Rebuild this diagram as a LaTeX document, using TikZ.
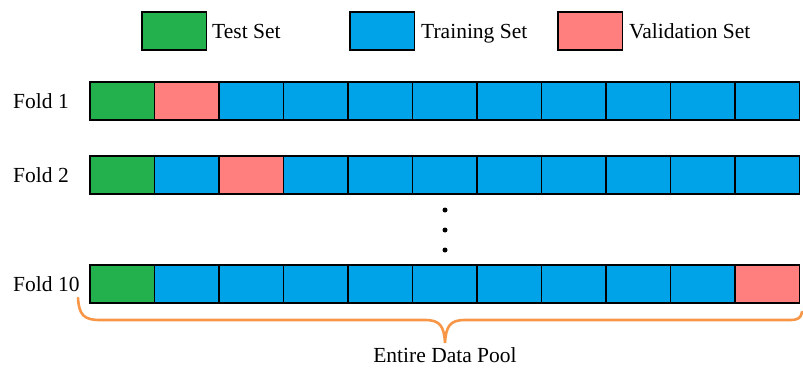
\documentclass[tikz,border=0pt]{standalone}
\usepackage{fontspec}
\setmainfont{Liberation Serif}
\definecolor{testg}{HTML}{22B14C}
\definecolor{trainb}{HTML}{00A2E8}
\definecolor{valr}{HTML}{FF7F7F}
\definecolor{braceo}{HTML}{F79646}
\begin{document}
\begin{tikzpicture}[x=1pt,y=-1pt,
  cell/.style={draw=black,line width=1.7pt,minimum width=64.5pt,minimum height=38pt,inner sep=0pt,outer sep=0pt},
  lbl/.style={font=\fontsize{21.5}{24}\selectfont,inner sep=0pt},
  dotn/.style={circle,fill=black,minimum size=5pt,inner sep=0pt}]
\useasboundingbox (0,0) rectangle (803,367);
% legend
\node[cell,fill=testg,anchor=north west] (lg) at (142,12) {};
\node[lbl,anchor=base west] (lgt) at (212,38) {Test Set};
\node[cell,fill=trainb,anchor=north west] (lb) at (350,12) {};
\node[lbl,anchor=base west] (lbt) at (421,38) {Training Set};
\node[cell,fill=valr,anchor=north west] (lr) at (558,12) {};
\node[lbl,anchor=base west] (lrt) at (629,38) {Validation Set};
% folds
\foreach \i/\y/\v/\name in {1/82/2/Fold 1, 2/156/3/Fold 2, 10/265/11/Fold 10}{
  \node[lbl,anchor=base west] (fl\i) at (13,\y+26) {\name};
  \foreach \c in {1,...,11}{
    \ifnum\c=1 \def\col{testg}\else\ifnum\c=\v \def\col{valr}\else\def\col{trainb}\fi\fi
    \node[cell,fill=\col,anchor=north west] (f\i c\c) at ({90+(\c-1)*64.5},\y) {};
  }
}
% dots
\node[dotn] (d1) at (445,210) {};
\node[dotn] (d2) at (445,230) {};
\node[dotn] (d3) at (445,250) {};
% brace
\coordinate (bl) at (78,298);
\coordinate (bt) at (445,343);
\coordinate (br) at (802,312);
\draw[braceo,line width=2.6pt,line cap=round]
  (bl) .. controls (79,315) and (84,320) .. (100,320)
  -- (425,320) .. controls (440,320) and (444,326) .. (bt)
  .. controls (446,326) and (450,320) .. (465,320)
  -- (790,320) .. controls (798,320) and (801,318) .. (br);
\node[lbl,anchor=base] (pool) at (bt |- 0,362) {Entire Data Pool};
\end{tikzpicture}
\end{document}
